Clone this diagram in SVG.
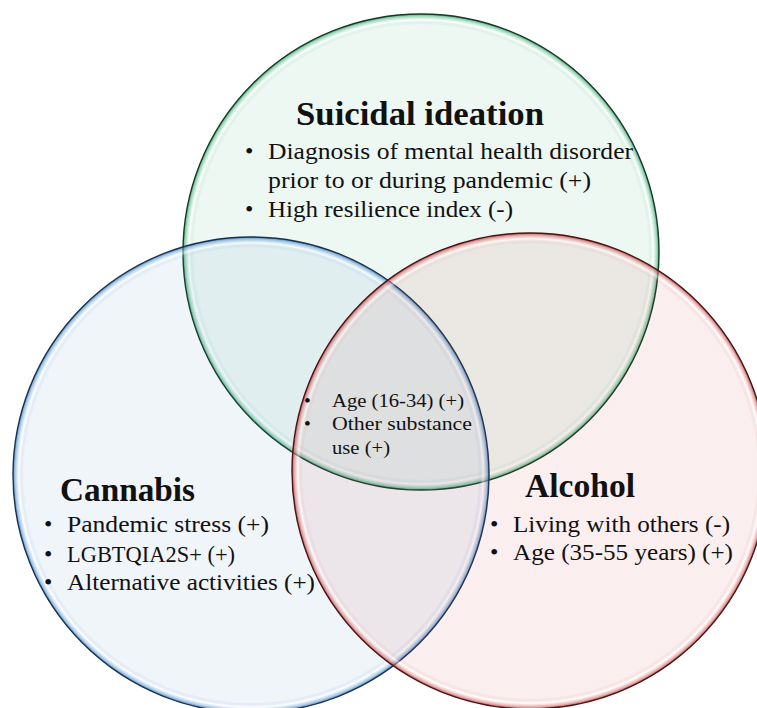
<svg xmlns="http://www.w3.org/2000/svg" width="757" height="708" viewBox="0 0 757 708">
<defs>
<radialGradient id="gGreen" cx="50%" cy="50%" r="50%">
<stop offset="0" stop-color="#3caa78" stop-opacity="0.09"/>
<stop offset="0.955" stop-color="#3caa78" stop-opacity="0.09"/>
<stop offset="0.975" stop-color="#ffffff" stop-opacity="0.5"/>
<stop offset="0.99" stop-color="#5cc08e" stop-opacity="0.55"/>
<stop offset="1" stop-color="#2a8a5a" stop-opacity="0.8"/>
</radialGradient>
<radialGradient id="gBlue" cx="50%" cy="50%" r="50%">
<stop offset="0" stop-color="#4682c8" stop-opacity="0.08"/>
<stop offset="0.955" stop-color="#4682c8" stop-opacity="0.08"/>
<stop offset="0.975" stop-color="#ffffff" stop-opacity="0.5"/>
<stop offset="0.99" stop-color="#6aa3d8" stop-opacity="0.55"/>
<stop offset="1" stop-color="#2d6aa8" stop-opacity="0.8"/>
</radialGradient>
<radialGradient id="gRed" cx="50%" cy="50%" r="50%">
<stop offset="0" stop-color="#c83c3c" stop-opacity="0.085"/>
<stop offset="0.955" stop-color="#c83c3c" stop-opacity="0.085"/>
<stop offset="0.975" stop-color="#ffffff" stop-opacity="0.45"/>
<stop offset="0.99" stop-color="#d87070" stop-opacity="0.55"/>
<stop offset="1" stop-color="#a83030" stop-opacity="0.8"/>
</radialGradient>
<style>
.t{font-family:"Liberation Serif","Times New Roman",serif;fill:#111;}
.h{font-weight:bold;font-size:33.5px;}
.b{font-size:24px;}
.c{font-size:19.5px;}
</style>
</defs>
<rect width="757" height="708" fill="#ffffff"/>
<g id="circle-suicidal">
<circle cx="421" cy="252" r="238" fill="url(#gGreen)" stroke="#153a26" stroke-width="1.4"/>
</g>
<g id="circle-cannabis">
<circle cx="251" cy="475" r="238" fill="url(#gBlue)" stroke="#17324f" stroke-width="1.4"/>
</g>
<g id="circle-alcohol">
<circle cx="530" cy="471" r="238" fill="url(#gRed)" stroke="#4a1414" stroke-width="1.4"/>
</g>
<g id="connectors"></g>
<g id="label-suicidal">
<text class="t h" x="296" y="125" textLength="248" lengthAdjust="spacingAndGlyphs">Suicidal ideation</text>
<text class="t b" x="245" y="159">•</text>
<text class="t b" x="268" y="159" textLength="365" lengthAdjust="spacingAndGlyphs">Diagnosis of mental health disorder</text>
<text class="t b" x="268" y="188" textLength="323" lengthAdjust="spacingAndGlyphs">prior to or during pandemic (+)</text>
<text class="t b" x="245" y="217">•</text>
<text class="t b" x="268" y="217" textLength="245" lengthAdjust="spacingAndGlyphs">High resilience index (-)</text>
</g>
<g id="label-cannabis">
<text class="t h" x="60" y="501" textLength="135" lengthAdjust="spacingAndGlyphs">Cannabis</text>
<text class="t b" x="44" y="532">•</text>
<text class="t b" x="67" y="532" textLength="202" lengthAdjust="spacingAndGlyphs">Pandemic stress (+)</text>
<text class="t b" x="44" y="562">•</text>
<text class="t b" x="67" y="562" textLength="168" lengthAdjust="spacingAndGlyphs">LGBTQIA2S+ (+)</text>
<text class="t b" x="44" y="590">•</text>
<text class="t b" x="67" y="590" textLength="248" lengthAdjust="spacingAndGlyphs">Alternative activities (+)</text>
</g>
<g id="label-alcohol">
<text class="t h" x="525" y="497" textLength="110" lengthAdjust="spacingAndGlyphs">Alcohol</text>
<text class="t b" x="490" y="532">•</text>
<text class="t b" x="513" y="532" textLength="217" lengthAdjust="spacingAndGlyphs">Living with others (-)</text>
<text class="t b" x="490" y="560">•</text>
<text class="t b" x="513" y="560" textLength="220" lengthAdjust="spacingAndGlyphs">Age (35-55 years) (+)</text>
</g>
<g id="label-center">
<text class="t c" x="304" y="407">•</text>
<text class="t c" x="332" y="407" textLength="132" lengthAdjust="spacingAndGlyphs">Age (16-34) (+)</text>
<text class="t c" x="304" y="430">•</text>
<text class="t c" x="332" y="430" textLength="140" lengthAdjust="spacingAndGlyphs">Other substance</text>
<text class="t c" x="332" y="454" textLength="58" lengthAdjust="spacingAndGlyphs">use (+)</text>
</g>
</svg>
